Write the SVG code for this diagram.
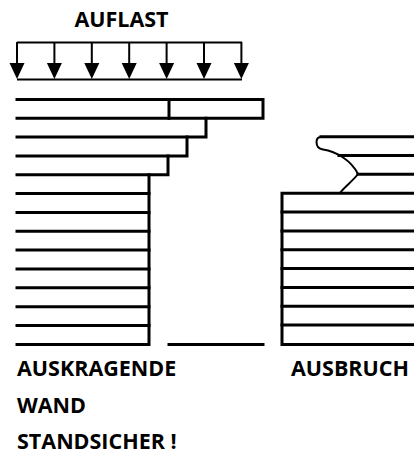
<svg xmlns="http://www.w3.org/2000/svg" width="414" height="454" viewBox="0 0 414 454">
  <style>
    .ln { stroke: #000; stroke-width: 3; fill: none; stroke-linecap: square; }
    .thin { stroke: #000; stroke-width: 2; fill: none; }
    .lbl { font-family: "Open Sans", "Liberation Sans", sans-serif; font-weight: bold; font-size: 21.5px; fill: #000; }
  </style>

  <rect width="414" height="454" fill="#fff"/>

  <!-- distributed load -->
  <g id="load">
    <text class="lbl" x="121.5" y="27" text-anchor="middle">AUFLAST</text>
    <line class="thin" x1="17" y1="42.5" x2="242" y2="42.5"/>
    <line class="thin" x1="17" y1="79.5" x2="242" y2="79.5" stroke-width="1.5"/>
    <g class="thin" stroke-width="3">
      <path d="M17,42 V63"/>
      <path d="M54.4,42 V63"/>
      <path d="M91.8,42 V63"/>
      <path d="M129.2,42 V63"/>
      <path d="M166.6,42 V63"/>
      <path d="M204,42 V63"/>
      <path d="M241.4,42 V63"/>
    </g>
    <g fill="#000">
      <path d="M9.5,63 H24.5 L17,79 Z"/>
      <path d="M46.9,63 H61.9 L54.4,79 Z"/>
      <path d="M84.3,63 H99.3 L91.8,79 Z"/>
      <path d="M121.7,63 H136.7 L129.2,79 Z"/>
      <path d="M159.1,63 H174.1 L166.6,79 Z"/>
      <path d="M196.5,63 H211.5 L204,79 Z"/>
      <path d="M233.9,63 H248.9 L241.4,79 Z"/>
    </g>
  </g>

  <!-- cantilevered wall, courses stepping out at the top -->
  <g id="wall-left">
    <path class="ln" d="M17,99.5 H263 V118.3 H17"/>
    <path class="ln" d="M169,99.5 V118.3"/>
    <path class="ln" d="M206,118.3 V137.1 H17"/>
    <path class="ln" d="M187,137.1 V156 H17"/>
    <path class="ln" d="M168,156 V174.8 H17"/>
    <path class="ln" d="M149,174.8 V344.4 H17"/>
    <g class="ln">
      <path d="M17,193.6 H149"/>
      <path d="M17,212.5 H149"/>
      <path d="M17,231.3 H149"/>
      <path d="M17,250.1 H149"/>
      <path d="M17,269 H149"/>
      <path d="M17,287.8 H149"/>
      <path d="M17,306.7 H149"/>
      <path d="M17,325.5 H149"/>
    </g>
    <path class="ln" d="M169,344.4 H263"/>
    <text class="lbl" x="17" y="376">AUSKRAGENDE</text>
    <text class="lbl" x="17" y="412.5">WAND</text>
    <text class="lbl" x="17" y="449">STANDSICHER !</text>
  </g>

  <!-- wall with broken-out courses -->
  <g id="wall-right">
    <path class="thin" d="M322,136.7 Q316.5,136.7 316.5,142 Q316.5,148.5 323,149.5 C336,151.5 351,160 358,174 C352,182 344,187 340,193"/>
    <path class="ln" d="M321,136.7 H414"/>
    <path class="ln" d="M339,155.5 H414"/>
    <path class="ln" d="M358,174.3 H414"/>
    <path class="ln" d="M414,193.2 H282 V344.4 H414"/>
    <g class="ln">
      <path d="M282,212 H414"/>
      <path d="M282,230.9 H414"/>
      <path d="M282,249.7 H414"/>
      <path d="M282,268.6 H414"/>
      <path d="M282,287.4 H414"/>
      <path d="M282,306.3 H414"/>
      <path d="M282,325.1 H414"/>
    </g>
    <text class="lbl" x="291" y="376">AUSBRUCH</text>
  </g>
</svg>
